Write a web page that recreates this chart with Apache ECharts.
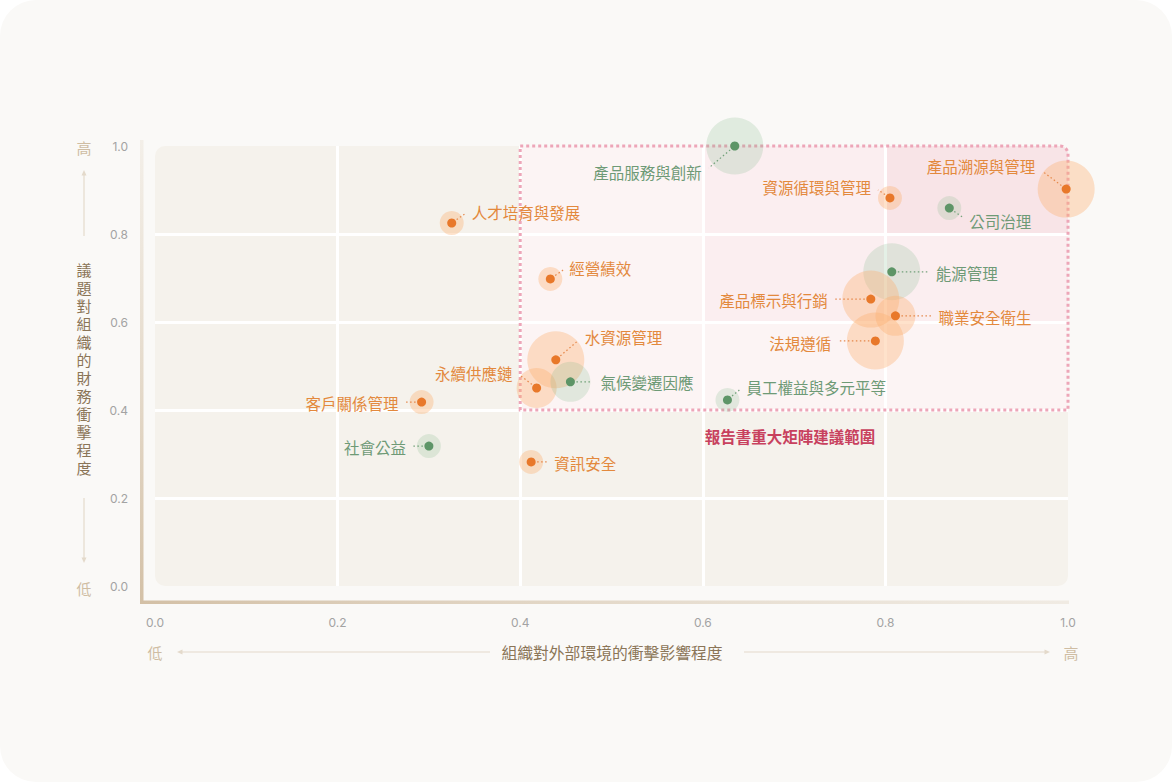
<!DOCTYPE html>
<html><head><meta charset="utf-8">
<script src="https://cdn.jsdelivr.net/npm/echarts@6.0.0/dist/echarts.min.js"></script>
<style>
html,body{margin:0;padding:0;background:#ffffff;width:1172px;height:782px;overflow:hidden}
#card{position:absolute;left:0;top:0;width:1172px;height:782px;border-radius:36px;background:#faf9f7}
#chart{position:absolute;left:0;top:0;width:1172px;height:782px}
</style></head><body><div id="card"></div><div id="chart"></div>
<script>
// ---------------- data ----------------
const categories = ['產品服務與創新','人才培育與發展','經營績效','資源循環與管理','產品溯源與管理','公司治理','能源管理','產品標示與行銷','職業安全衛生','法規遵循','員工權益與多元平等','水資源管理','永續供應鏈','氣候變遷因應','客戶關係管理','社會公益','資訊安全'];
const impactX    = [0.635,0.325,0.433,0.805,0.998,0.870,0.807,0.784,0.811,0.789,0.627,0.439,0.418,0.455,0.292,0.300,0.412];
const financialY = [1.000,0.825,0.698,0.882,0.902,0.859,0.714,0.652,0.614,0.557,0.423,0.514,0.450,0.464,0.418,0.318,0.282];
const bubbleLevel = [3,1,1,1,3,1,3,3,2,3,1,3,2,2,1,1,1];
const groupKeys  = ['g','o','o','o','o','g','g','o','o','o','g','o','o','g','o','g','o'];
const axisTicks = [0, 0.2, 0.4, 0.6, 0.8, 1.0];
const xAxisTitle = '組織對外部環境的衝擊影響程度';
const yAxisTitle = '議題對組織的財務衝擊程度';
const lowLabel = '低', highLabel = '高';
const zoneName = '報告書重大矩陣建議範圍';
// zones: [x0, x1, y0, y1]
const zoneX0 = [0, 0.4, 0.6, 0.8];
const zoneX1 = [1, 1, 1, 1];
const zoneY0 = [0, 0.4, 0.6, 0.8];
const zoneY1 = [1, 1, 1, 1];

// ---------------- styles ----------------
const FONT = '"Noto Sans CJK TC", "Noto Sans CJK SC", sans-serif';
const zoneFill = ['#f5f2ec', '#fcf4f4', '#fbeef0', '#f8e4e7'];
const zoneRadius = [10, [0,8,0,0], [0,8,0,0], [0,8,0,0]];
const palette = {
  o: {halo:'rgba(251,176,112,0.36)', dot:'#e8782a', line:'rgba(226,120,50,0.85)', text:'#e3893d'},
  g: {halo:'rgba(118,178,128,0.2)', dot:'#5d9567', line:'rgba(93,149,103,0.85)', text:'#6e9a76'}
};
const radiusByLevel = {1:12, 2:20, 3:28.5};
// label placement: [dx, dy, align, lineEndDx, lineEndDy]
const labelPlacement = [
  [-33, 26, 'right', -26, 22],
  [20, -11, 'left', 13, -9],
  [19, -11, 'left', 13, -9],
  [-19, -11, 'right', -12, -8],
  [-31, -23, 'right', -24, -18],
  [20, 13, 'left', 13, 9],
  [44, 1, 'left', 36, 0],
  [-43, 1, 'right', -36, 0],
  [43, 1, 'left', 37, 0],
  [-44, 2, 'right', -38, 0],
  [19, -13, 'left', 12, -10],
  [29, -23, 'left', 22, -19],
  [-24, -15, 'right', -17, -13],
  [30, 0, 'left', 22, 0],
  [-23, 1, 'right', -17, 0],
  [-23, 1, 'right', -16, 0],
  [23, 1, 'left', 16, 0]
];

const chart = echarts.init(document.getElementById('chart'), null, {renderer:'svg'});

function renderZone(params, api){
  const i = params.dataIndex;
  const tl = api.coord([api.value(0), api.value(3)]);
  const br = api.coord([api.value(1), api.value(2)]);
  return {type:'rect', shape:{x:tl[0], y:tl[1], width:br[0]-tl[0], height:br[1]-tl[1], r:zoneRadius[i]}, style:{fill:zoneFill[i]}};
}
function renderBorder(params, api){
  const tl = api.coord([api.value(0), api.value(3)]);
  const br = api.coord([api.value(1), api.value(2)]);
  const lab = api.coord([0.6, api.value(2)]);
  return {type:'group', children:[
    {type:'rect', shape:{x:tl[0], y:tl[1], width:br[0]-tl[0], height:br[1]-tl[1], r:[0,8,0,0]},
     style:{fill:'none', stroke:'#eda6b8', lineWidth:3, lineDash:[3,3]}},
    {type:'text', style:{text:zoneName, x:lab[0]+2, y:lab[1]+26, fill:'#c8415e', fontSize:15.5, fontWeight:'bold', fontFamily:FONT, textAlign:'left', textVerticalAlign:'middle'}}
  ]};
}
function renderBubble(params, api){
  const i = params.dataIndex;
  const c = api.coord([api.value(0), api.value(1)]);
  const pal = palette[groupKeys[i]];
  const r = radiusByLevel[api.value(2)];
  const [dx, dy, align, ex, ey] = labelPlacement[i];
  const len = Math.hypot(ex, ey);
  const sx = c[0] + ex/len*6, sy = c[1] + ey/len*6;
  return {type:'group', children:[
    {type:'circle', z2:1, shape:{cx:c[0], cy:c[1], r:r}, style:{fill:pal.halo}},
    {type:'line', z2:3, shape:{x1:sx, y1:sy, x2:c[0]+ex, y2:c[1]+ey}, style:{stroke:pal.line, lineWidth:1.2, lineDash:[1.5,2.5]}},
    {type:'circle', z2:5, shape:{cx:c[0], cy:c[1], r:4.5}, style:{fill:pal.dot}},
    {type:'text', z2:5, style:{text:categories[i], x:c[0]+dx, y:c[1]+dy, fill:pal.text, fontSize:15.5, fontFamily:FONT, textAlign:align, textVerticalAlign:'middle'}}
  ]};
}

const axisCommon = {
  type:'value', min:axisTicks[0], max:axisTicks[axisTicks.length-1], interval:axisTicks[1]-axisTicks[0], z:3,
  axisLine:{show:false}, axisTick:{show:false},
  splitLine:{show:true, showMinLine:false, showMaxLine:false, lineStyle:{color:'#ffffff', width:3}},
  axisLabel:{color:'#a3a3a3', fontSize:12, fontFamily:'Inter, Roboto, sans-serif', formatter:v=>v.toFixed(1)}
};

const titleColor = '#8b7557', lhColor = '#cfbda3', arrowColor = '#e4dacb';
const graphics = [
  {type:'rect', shape:{x:140, y:140, width:3.5, height:464}, style:{fill:new echarts.graphic.LinearGradient(0,0,0,1,[{offset:0,color:'rgba(222,208,188,0.25)'},{offset:1,color:'#d3c0a6'}])}},
  {type:'rect', shape:{x:140, y:600.5, width:929, height:3.5}, style:{fill:new echarts.graphic.LinearGradient(0,0,1,0,[{offset:0,color:'#d3c0a6'},{offset:1,color:'rgba(228,218,203,0.45)'}])}},
  // y axis arrows
  {type:'text', style:{text:highLabel, x:84, y:147, fill:lhColor, fontSize:15, fontFamily:FONT, textAlign:'center', textVerticalAlign:'middle'}},
  {type:'line', shape:{x1:84, y1:174, x2:84, y2:236}, style:{stroke:arrowColor, lineWidth:1.2}},
  {type:'polygon', shape:{points:[[84,170],[81.5,175.5],[86.5,175.5]]}, style:{fill:arrowColor}},
  {type:'line', shape:{x1:84, y1:498, x2:84, y2:559}, style:{stroke:arrowColor, lineWidth:1.2}},
  {type:'polygon', shape:{points:[[84,563],[81.5,557.5],[86.5,557.5]]}, style:{fill:arrowColor}},
  {type:'text', style:{text:lowLabel, x:84, y:588, fill:lhColor, fontSize:15, fontFamily:FONT, textAlign:'center', textVerticalAlign:'middle'}},
  // x axis title & arrows
  {type:'text', style:{text:lowLabel, x:155, y:652, fill:lhColor, fontSize:15, fontFamily:FONT, textAlign:'center', textVerticalAlign:'middle'}},
  {type:'line', shape:{x1:181, y1:652, x2:490, y2:652}, style:{stroke:arrowColor, lineWidth:1.2}},
  {type:'polygon', shape:{points:[[177,652],[182.5,649.5],[182.5,654.5]]}, style:{fill:arrowColor}},
  {type:'text', style:{text:xAxisTitle, x:612, y:652, fill:titleColor, fontSize:15.8, fontFamily:FONT, textAlign:'center', textVerticalAlign:'middle'}},
  {type:'line', shape:{x1:744, y1:652, x2:1046, y2:652}, style:{stroke:arrowColor, lineWidth:1.2}},
  {type:'polygon', shape:{points:[[1050,652],[1044.5,649.5],[1044.5,654.5]]}, style:{fill:arrowColor}},
  {type:'text', style:{text:highLabel, x:1071, y:652, fill:lhColor, fontSize:15, fontFamily:FONT, textAlign:'center', textVerticalAlign:'middle'}}
];
// vertical y-axis title, one character per row
const yChars = yAxisTitle.split('');
yChars.forEach((ch, k) => {
  graphics.push({type:'text', style:{text:ch, x:84, y:269 + k*18, fill:titleColor, fontSize:15, fontFamily:FONT, textAlign:'center', textVerticalAlign:'middle'}});
});

chart.setOption({
  backgroundColor:'transparent',
  animation:false,
  grid:{left:155, right:104, top:146, bottom:196},
  xAxis: Object.assign({}, axisCommon, {axisLabel:Object.assign({}, axisCommon.axisLabel, {margin:30})}),
  yAxis: Object.assign({}, axisCommon, {axisLabel:Object.assign({}, axisCommon.axisLabel, {margin:27})}),
  graphic: graphics,
  series:[
    {type:'custom', z:1, silent:true, renderItem:renderZone,
     data: zoneX0.map((x0,i)=>[x0, zoneX1[i], zoneY0[i], zoneY1[i]])},
    {type:'custom', z:4, silent:true, renderItem:renderBorder,
     data: [[zoneX0[1], zoneX1[1], zoneY0[1], zoneY1[1]]]},
    {type:'custom', z:5, renderItem:renderBubble,
     data: categories.map((n,i)=>[impactX[i], financialY[i], bubbleLevel[i]])}
  ]
});
</script></body></html>
